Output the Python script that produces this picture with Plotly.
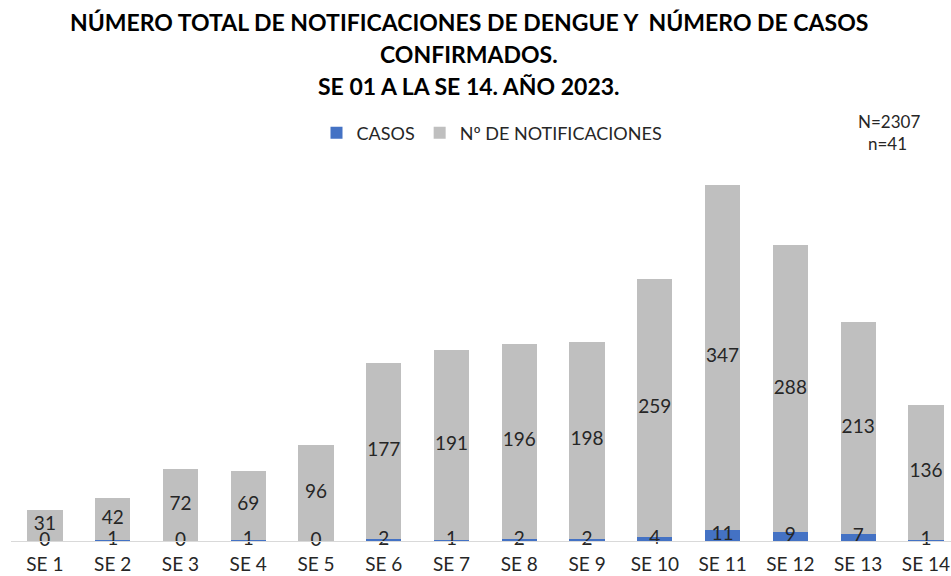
import plotly.graph_objects as go

semanas = ["SE 1", "SE 2", "SE 3", "SE 4", "SE 5", "SE 6", "SE 7",
           "SE 8", "SE 9", "SE 10", "SE 11", "SE 12", "SE 13", "SE 14"]
casos = [0, 1, 0, 1, 0, 2, 1, 2, 2, 4, 11, 9, 7, 1]
notificaciones = [31, 42, 72, 69, 96, 177, 191, 196, 198, 259, 347, 288, 213, 136]

# body margin is removed by post_script, so figure pixels == window pixels
OFF = 0
W, H = 951, 576
# plot area in window pixels: left 11, right 951, top 143, bottom 541
ML = 11 - OFF
MR = 0
MT = 143 - OFF
MB = H - (541 - OFF)
YMAX = 400
FONT = "Lato"
BLUE = "#4472C4"
GRAY = "#BFBFBF"
TXT = "#262626"

plot_h = H - MT - MB
plot_w = W - ML - MR


def py(p):
    """window pixel y -> paper y"""
    return (H - MB - (p - OFF)) / plot_h


def px(p):
    """window pixel x -> paper x"""
    return ((p - OFF) - ML) / plot_w


fig = go.Figure()
fig.add_trace(go.Bar(x=semanas, y=casos, name="CASOS", marker_color=BLUE,
                     marker_line_width=0, hoverinfo="skip"))
fig.add_trace(go.Bar(x=semanas, y=notificaciones, name="Nº DE NOTIFICACIONES",
                     marker_color=GRAY, marker_line_width=0, hoverinfo="skip"))

fig.add_trace(go.Scatter(x=semanas, y=[c / 2 for c in casos], mode="text",
                         text=[str(c) for c in casos], textposition="middle center",
                         textfont=dict(family=FONT, size=19, color=TXT),
                         showlegend=False, hoverinfo="skip", cliponaxis=False))
fig.add_trace(go.Scatter(x=semanas, y=[c + n / 2 for c, n in zip(casos, notificaciones)],
                         mode="text", text=[str(n) for n in notificaciones],
                         textposition="middle center",
                         textfont=dict(family=FONT, size=19, color=TXT),
                         showlegend=False, hoverinfo="skip", cliponaxis=False))

title_lines = ["NÚMERO TOTAL DE NOTIFICACIONES DE DENGUE Y  NÚMERO DE CASOS",
               "CONFIRMADOS.",
               "SE 01 A LA SE 14. AÑO 2023."]
title_y = [22, 54, 86]
annotations = []
for t, yy in zip(title_lines, title_y):
    annotations.append(dict(text="<b>" + t + "</b>", x=px(469), xref="paper",
                            y=py(yy), yref="paper", showarrow=False,
                            xanchor="center", yanchor="middle",
                            font=dict(family=FONT, size=23, color="#000000")))

annotations.append(dict(text="N=2307", x=px(889), xref="paper",
                        y=py(121), yref="paper", showarrow=False, xanchor="center",
                        yanchor="middle", font=dict(family=FONT, size=17, color=TXT)))
annotations.append(dict(text="n=41", x=px(887), xref="paper",
                        y=py(143), yref="paper", showarrow=False, xanchor="center",
                        yanchor="middle", font=dict(family=FONT, size=17, color=TXT)))

fig.update_layout(
    width=W, height=H,
    margin=dict(l=ML, r=MR, t=MT, b=MB, pad=0, autoexpand=False),
    barmode="stack", bargap=0.48,
    plot_bgcolor="white", paper_bgcolor="white",
    font=dict(family=FONT, size=19, color=TXT),
    showlegend=True,
    legend=dict(orientation="h", x=px(492), xanchor="center",
                y=py(133), yanchor="middle", font=dict(family=FONT, size=18, color=TXT),
                itemwidth=30, traceorder="normal", bgcolor="rgba(0,0,0,0)",
                tracegroupgap=0),
    annotations=annotations,
)
fig.update_xaxes(range=[-0.5, 13.37], showline=True, linecolor="#D9D9D9", linewidth=1,
                 ticks="outside", ticklen=6, tickcolor="rgba(0,0,0,0)",
                 showgrid=False, tickfont=dict(family=FONT, size=19, color=TXT),
                 fixedrange=True, automargin=False)
fig.update_yaxes(range=[0, YMAX], visible=False, showgrid=False, fixedrange=True,
                 automargin=False)

fig.write_html(
    "out.html",
    config={"displayModeBar": False},
    post_script="document.body.style.margin='0';document.body.style.overflow='hidden';",
)
